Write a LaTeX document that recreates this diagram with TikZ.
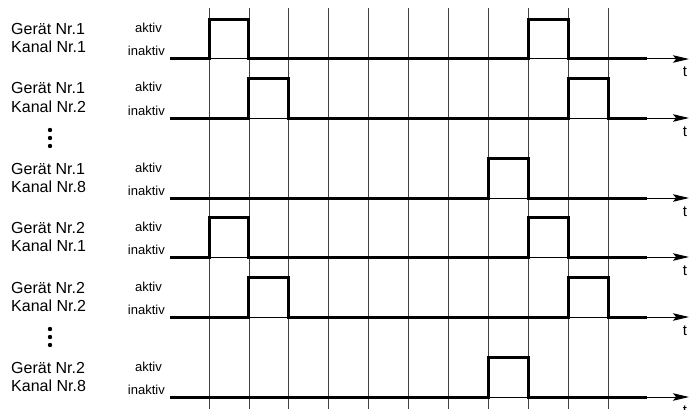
\documentclass[tikz,border=0pt]{standalone}
\usepackage{fontspec}
\setmainfont{Liberation Sans}
\usetikzlibrary{arrows.meta}
\begin{document}
\begin{tikzpicture}[x=1pt,y=-1pt,
  gridline/.style={draw=black!75, line width=0.75pt},
  axis/.style={line width=1pt, -{Stealth[length=16pt,width=7.5pt,inset=3pt]}},
  sig/.style={line width=3pt, line join=miter, line cap=butt},
  lbl/.style={anchor=base west, inner sep=0pt, font=\fontsize{16}{16}\selectfont},
  lvl/.style={anchor=base east, inner sep=0pt, font=\fontsize{13}{13}\selectfont},
  tl/.style={anchor=base, inner sep=0pt, font=\fontsize{15}{15}\selectfont},
  dot/.style={fill=black, draw=none}]
\useasboundingbox (0,0) rectangle (692,409);
% grid
\foreach \i in {0,...,10}
  \draw[gridline] (209+39.9*\i, 8) -- (209+39.9*\i, 409);
% rows: baseline, device, channel
\foreach \B/\g/\k [count=\r] in {59/1/1, 118/1/2, 198/1/8, 257/2/1, 317/2/2, 397/2/8}{
  \node[lbl] (ger\r) at (11,\B-24) {Gerät Nr.\g};
  \node[lbl] (kan\r) at (11,\B-6) {Kanal Nr.\k};
  \node[lvl] (akt\r) at (162,\B-26) {aktiv};
  \node[lvl] (ina\r) at (165,\B-3) {inaktiv};
  \coordinate (s\r) at (170,\B);
  \coordinate (e\r) at (689,\B);
  \draw[axis] (s\r) -- (e\r);
  \node[tl] (t\r) at (685,\B+18) {t};
}
% signals
\draw[sig] (170,59) -- (209,59) -- (209,19.5) -- (248.9,19.5) -- (248.9,59) -- (528.2,59) -- (528.2,19.5) -- (568.1,19.5) -- (568.1,59) -- (647,59);
\draw[sig] (170,118) -- (248.9,118) -- (248.9,78.5) -- (288.8,78.5) -- (288.8,118) -- (568.1,118) -- (568.1,78.5) -- (608,78.5) -- (608,118) -- (647,118);
\draw[sig] (170,198) -- (488.3,198) -- (488.3,158.5) -- (528.2,158.5) -- (528.2,198) -- (647,198);
\draw[sig] (170,257) -- (209,257) -- (209,217.5) -- (248.9,217.5) -- (248.9,257) -- (528.2,257) -- (528.2,217.5) -- (568.1,217.5) -- (568.1,257) -- (647,257);
\draw[sig] (170,317) -- (248.9,317) -- (248.9,277.5) -- (288.8,277.5) -- (288.8,317) -- (568.1,317) -- (568.1,277.5) -- (608,277.5) -- (608,317) -- (647,317);
\draw[sig] (170,397) -- (488.3,397) -- (488.3,357.5) -- (528.2,357.5) -- (528.2,397) -- (647,397);
% vertical ellipses
\foreach \B in {198,397}{
  \fill[dot] (50,\B-68) circle (2.2);
  \fill[dot] (50,\B-60) circle (2.2);
  \fill[dot] (50,\B-52) circle (2.2);
}
\end{tikzpicture}
\end{document}
